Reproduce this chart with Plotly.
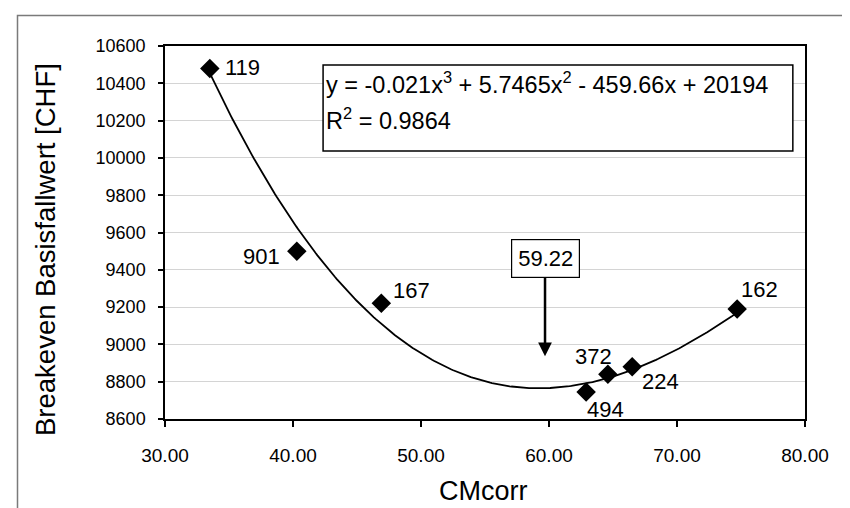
import plotly.graph_objects as go
import numpy as np

# ---- data ----
cm_corr = [33.5, 40.3, 46.9, 62.9, 64.6, 66.5, 74.7]
breakeven = [10480, 9500, 9220, 8745, 8840, 8880, 9190]
point_labels = ["119", "901", "167", "494", "372", "224", "162"]

# trendline coefficients as printed on the chart (cubic)
trend_coef = [-0.021, 5.7465, -459.66, 20194]
r_squared = 0.9864
minimum_x = 59.22
arrow_tip_y = 8937

x_ticks = [30, 40, 50, 60, 70, 80]
y_ticks = list(range(8600, 10601, 200))

# ---- label placement styles (pixel offsets) ----
label_style = {
    "119": dict(xanchor="left", xshift=13, yshift=1),
    "901": dict(xanchor="right", xshift=-15, yshift=-5),
    "167": dict(xanchor="left", xshift=10, yshift=13),
    "494": dict(xanchor="left", xshift=-1, yshift=-18),
    "372": dict(xanchor="center", xshift=-14, yshift=18),
    "224": dict(xanchor="left", xshift=8, yshift=-15),
    "162": dict(xanchor="left", xshift=2, yshift=19),
}

FONT = "Liberation Sans, Arial, sans-serif"

xs = np.linspace(min(cm_corr), max(cm_corr), 300)
ys = np.polyval(trend_coef, xs)

fig = go.Figure()
fig.add_trace(go.Scatter(x=xs, y=ys, mode="lines",
                         line=dict(color="black", width=1.8),
                         hoverinfo="skip", showlegend=False))
fig.add_trace(go.Scatter(x=cm_corr, y=breakeven, mode="markers",
                         marker=dict(symbol="diamond", size=15, color="black"),
                         showlegend=False))

for xv, yv, lab in zip(cm_corr, breakeven, point_labels):
    st = label_style[lab]
    fig.add_annotation(x=xv, y=yv, text=lab, showarrow=False,
                       xanchor=st["xanchor"], yanchor="middle",
                       xshift=st["xshift"], yshift=st["yshift"],
                       font=dict(family=FONT, size=22, color="black"))

# equation box
fig.add_shape(type="rect", xref="paper", yref="paper",
              x0=0.247, x1=0.981, y0=0.7185, y1=0.949,
              line=dict(color="black", width=1.5), fillcolor="white", layer="above")
c = trend_coef
eq_text = (f"y = {c[0]}x<sup>3</sup> + {c[1]}x<sup>2</sup> - {abs(c[2])}x + {c[3]}")
fig.add_annotation(xref="paper", yref="paper", x=0.247, y=0.8847, xshift=1, yshift=6,
                   text=eq_text, showarrow=False, xanchor="left", yanchor="middle",
                   font=dict(family=FONT, size=23.5, color="black"))
fig.add_annotation(xref="paper", yref="paper", x=0.247, y=0.788, xshift=1, yshift=6,
                   text=f"R<sup>2</sup> = {r_squared}", showarrow=False,
                   xanchor="left", yanchor="middle",
                   font=dict(family=FONT, size=23.5, color="black"))

# minimum arrow callout
fig.add_annotation(x=minimum_x, y=arrow_tip_y, text=f"{minimum_x:.2f}",
                   xshift=6, showarrow=True, ax=0, ay=-98,
                   arrowhead=2, arrowsize=1.1, arrowwidth=2.5, arrowcolor="black",
                   bordercolor="black", borderwidth=1.2, borderpad=6,
                   bgcolor="white",
                   font=dict(family=FONT, size=22, color="black"))

# axis titles
fig.add_annotation(xref="paper", yref="paper", x=(37 - 157) / 640, y=1 - (242 - 38) / 373,
                   text="Breakeven Basisfallwert [CHF]", textangle=-90,
                   showarrow=False, xanchor="center", yanchor="middle",
                   font=dict(family=FONT, size=27.5, color="black"))
fig.add_annotation(xref="paper", yref="paper", x=(475 - 157) / 640, y=1 - (483 - 38) / 373,
                   text="CMcorr", showarrow=False, xanchor="center", yanchor="middle",
                   font=dict(family=FONT, size=27, color="black"))

# outer frame
fig.add_shape(type="rect", xref="paper", yref="paper",
              x0=(9.5 - 157) / 640, x1=(842 - 157) / 640,
              y0=-0.35, y1=1 + (38 - 7.5) / 373,
              line=dict(color="#7a7a7a", width=1.5), layer="below")

fig.update_xaxes(range=[30, 80], tickvals=x_ticks,
                 ticktext=[f"{v:.2f}" for v in x_ticks],
                 showgrid=False, zeroline=False,
                 showline=True, linecolor="black", linewidth=1.5, mirror=True,
                 ticks="outside", ticklen=6, tickwidth=1.5, tickcolor="black",
                 ticklabelstandoff=12,
                 tickfont=dict(family=FONT, size=19, color="black"))
fig.update_yaxes(range=[8600, 10600], tickvals=y_ticks,
                 ticktext=[str(v) for v in y_ticks],
                 showgrid=True, gridcolor="#d4d4d4", gridwidth=1, zeroline=False,
                 showline=True, linecolor="black", linewidth=1.5, mirror=True,
                 ticks="outside", ticklen=5, tickwidth=1.5, tickcolor="black",
                 ticklabelstandoff=9,
                 tickfont=dict(family=FONT, size=18, color="black"))

fig.update_layout(width=850, height=508,
                  margin=dict(l=157, r=53, t=38, b=97),
                  paper_bgcolor="white", plot_bgcolor="white",
                  showlegend=False)

fig.write_html("out.html")
